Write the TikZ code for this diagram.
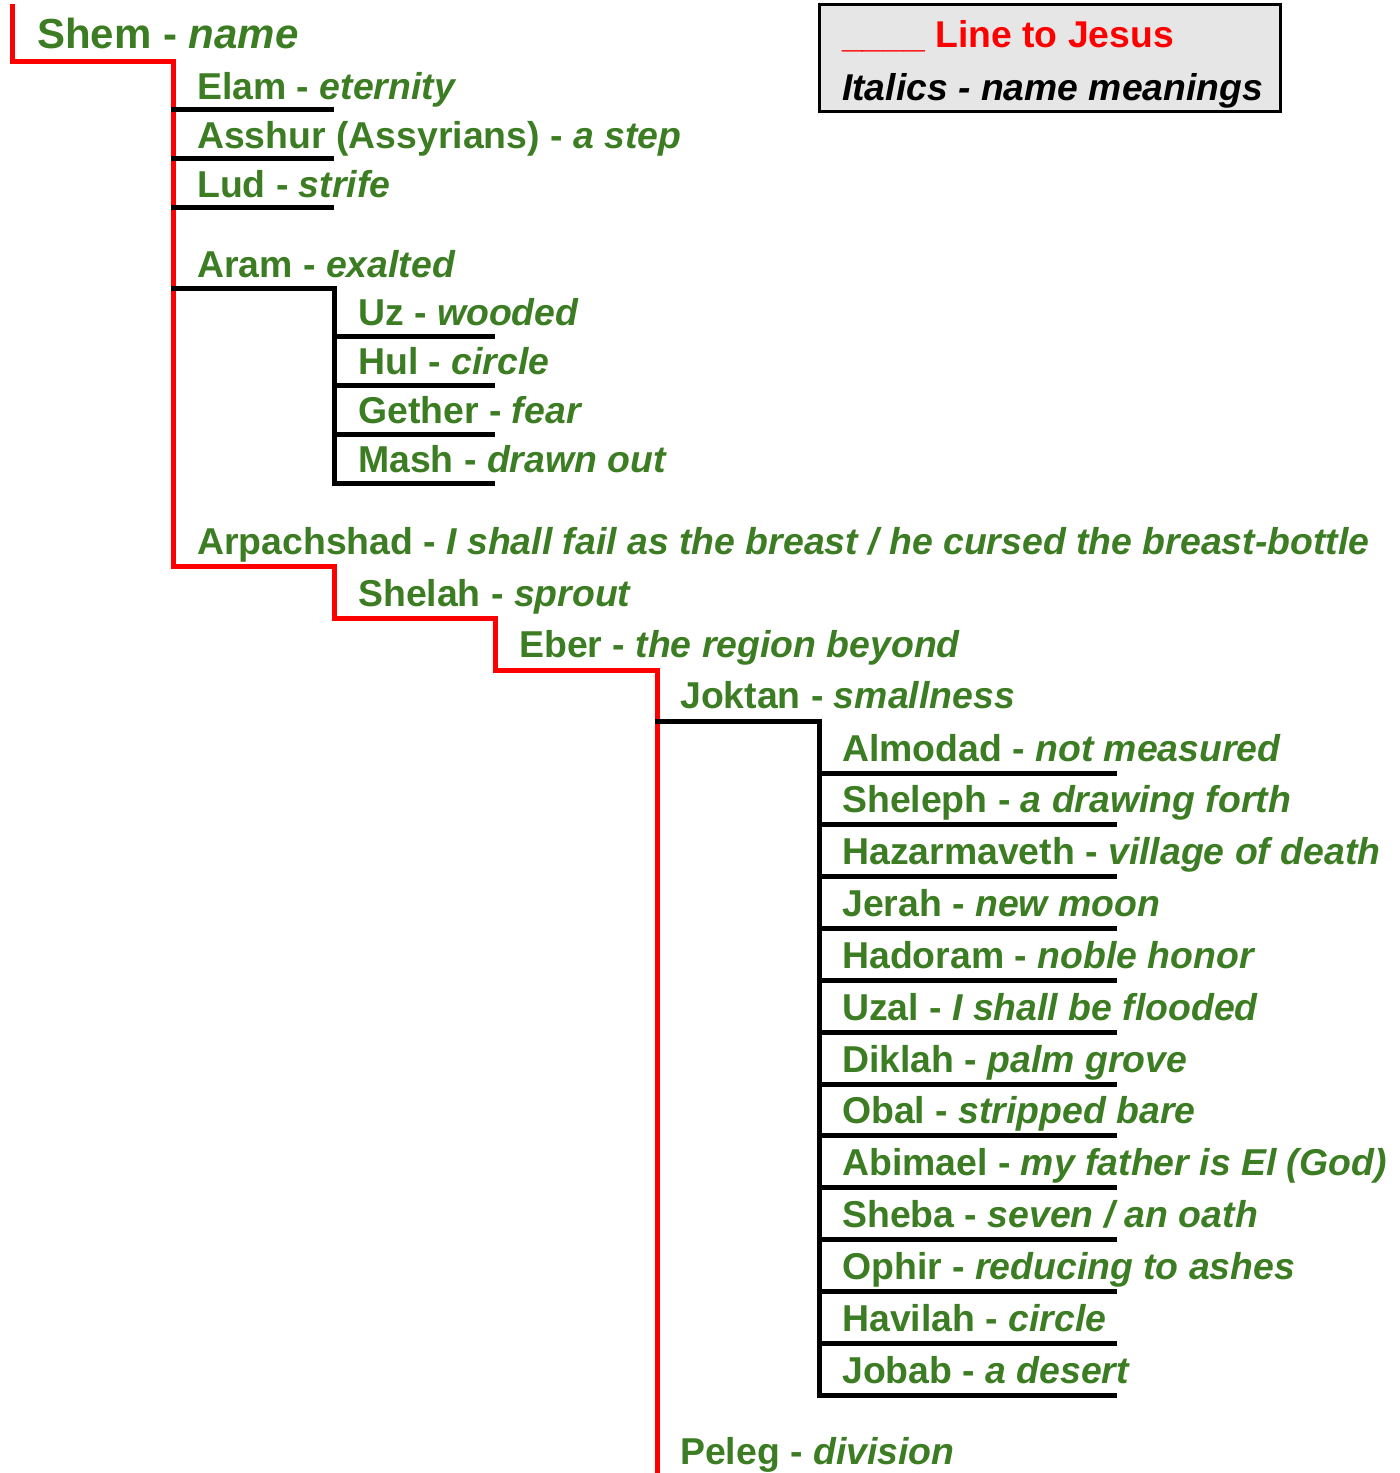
\documentclass[tikz,border=0pt]{standalone}
\usepackage{fontspec}
\setmainfont{Liberation Sans}
\definecolor{leaf}{RGB}{60,125,35}
\definecolor{legendbg}{RGB}{230,230,230}
\begin{document}
\begin{tikzpicture}[x=1pt,y=-1pt,
  lbl/.style={anchor=base west, inner sep=0pt, text=leaf, font=\fontsize{37.4}{40}\selectfont\bfseries},
  bigl/.style={lbl, font=\fontsize{42}{46}\selectfont\bfseries},
  redl/.style={draw=red, line width=5pt, line join=miter},
  blkl/.style={draw=black, line width=5pt, line join=miter},
  legendbox/.style={draw=black, fill=legendbg, line width=2.5pt, minimum width=461pt, minimum height=107pt, inner sep=0pt, anchor=north west},
  legtxt/.style={anchor=base west, inner sep=0pt, font=\fontsize{37.3}{40}\selectfont\bfseries}]
\useasboundingbox (0,0) rectangle (1400,1473);

% ---- legend
\node[legendbox] (legend) at (818,3) {};
\node[legtxt, text=red] (legred) at (842,47) {\_\_\_\_ Line to Jesus};
\node[legtxt, text=black] (legital) at (842,100) {\textit{Italics - name meanings}};

% ---- spine coordinates
\coordinate (r0) at (12,4);
\coordinate (r1) at (173,61);
\coordinate (r2) at (334,566);
\coordinate (r3) at (495,618);
\coordinate (r4) at (657,670);
\coordinate (rend) at (657,1473);
\coordinate (aramsp) at (334,288);
\coordinate (jksp) at (819,721);

% ---- labels
\node[bigl] (shem) at (37,48) {Shem - \textit{name}};
\node[lbl] (elam) at (197,99) {Elam - \textit{eternity}};
\node[lbl] (asshur) at (197,148) {Asshur (Assyrians) - \textit{a step}};
\node[lbl] (lud) at (197,197) {Lud - \textit{strife}};
\node[lbl] (aram) at (197,277) {Aram - \textit{exalted}};
\node[lbl] (uz) at (358,325) {Uz - \textit{wooded}};
\node[lbl] (hul) at (358,374) {Hul - \textit{circle}};
\node[lbl] (gether) at (358,423) {Gether - \textit{fear}};
\node[lbl] (mash) at (358,472) {Mash - \textit{drawn out}};
\node[lbl] (arpach) at (197,554) {Arpachshad - \textit{I shall fail as the breast / he cursed the breast-bottle}};
\node[lbl] (shelah) at (358,606) {Shelah - \textit{sprout}};
\node[lbl] (eber) at (519,657) {Eber - \textit{the region beyond}};
\node[lbl] (joktan) at (680,708) {Joktan - \textit{smallness}};
\node[lbl] (almodad) at (842,761) {Almodad - \textit{not measured}};
\node[lbl] (sheleph) at (842,812.8) {Sheleph - \textit{a drawing forth}};
\node[lbl] (hazar) at (842,864.7) {Hazarmaveth - \textit{village of death}};
\node[lbl] (jerah) at (842,916.5) {Jerah - \textit{new moon}};
\node[lbl] (hadoram) at (842,968.3) {Hadoram - \textit{noble honor}};
\node[lbl] (uzal) at (842,1020.2) {Uzal - \textit{I shall be flooded}};
\node[lbl] (diklah) at (842,1072) {Diklah - \textit{palm grove}};
\node[lbl] (obal) at (842,1123.8) {Obal - \textit{stripped bare}};
\node[lbl] (abimael) at (842,1175.7) {Abimael - \textit{my father is El (God)}};
\node[lbl] (sheba) at (842,1227.5) {Sheba - \textit{seven / an oath}};
\node[lbl] (ophir) at (842,1279.3) {Ophir - \textit{reducing to ashes}};
\node[lbl] (havilah) at (842,1331.2) {Havilah - \textit{circle}};
\node[lbl] (jobab) at (842,1383) {Jobab - \textit{a desert}};
\node[lbl] (peleg) at (680,1464) {Peleg - \textit{division}};

% ---- red line to Jesus
\draw[redl] (r0) |- (r1) |- (r2) |- (r3) |- (r4) -- (rend);

% ---- Shem's other sons
\foreach \n in {elam,asshur,lud}
  \draw[blkl] ([yshift=-10pt]\n.base west -| r1) ++(-2.5,0) -- ++(163.5,0);

% ---- Aram and his sons
\draw[blkl] (r1 |- aramsp) ++(-2.5,0) -- (aramsp) -- ([yshift=-11pt]mash.base west -| aramsp);
\foreach \n in {uz,hul,gether,mash}
  \draw[blkl] ([yshift=-11pt]\n.base west -| aramsp) ++(-2.5,0) -- ++(163.5,0);

% ---- Joktan and his sons
\draw[blkl] (r4 |- jksp) ++(-2.5,0) -- (jksp) -- ([yshift=-12pt]jobab.base west -| jksp);
\foreach \n in {almodad,sheleph,hazar,jerah,hadoram,uzal,diklah,obal,abimael,sheba,ophir,havilah,jobab}
  \draw[blkl] ([yshift=-12pt]\n.base west -| jksp) ++(-2.5,0) -- ++(300.5,0);
\end{tikzpicture}
\end{document}
